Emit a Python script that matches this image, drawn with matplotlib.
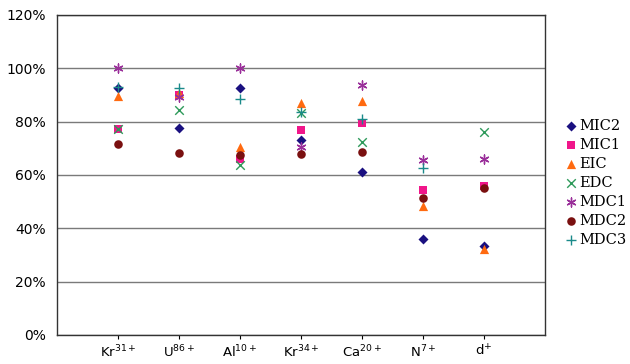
import numpy as np
import matplotlib
matplotlib.use('Agg')
import matplotlib.pyplot as plt
from matplotlib.ticker import FuncFormatter

nan = np.nan

ions = [r'Kr$^{31+}$', r'U$^{86+}$', r'Al$^{10+}$', r'Kr$^{34+}$',
        r'Ca$^{20+}$', r'N$^{7+}$', r'd$^{+}$']

# values in %
mic2 = [92.7, 77.5, 92.7, 73.2, 61.0, 35.9, 33.4]
mic1 = [77.4, 90.0, 66.1, 77.0, 79.4, 54.3, 56.0]
eic = [89.7, 90.6, 70.6, 86.9, 87.8, 48.5, 32.1]
edc = [77.4, 84.5, 63.8, 83.1, 72.3, nan, 76.2]
mdc1 = [100.0, 89.1, 100.0, 70.4, 93.8, 65.6, 65.9]
mdc2 = [71.7, 68.4, 67.4, 68.0, 68.7, 51.3, 55.2]
mdc3 = [93.0, 92.5, 88.4, 83.5, 80.9, 62.5, nan]

series = [
    ('MIC2', mic2, 'D', '#1a1080', 26),
    ('MIC1', mic1, 's', '#f0168a', 32),
    ('EIC', eic, '^', '#ff6a10', 44),
    ('EDC', edc, 'x', '#2e9a5a', 38),
    ('MDC1', mdc1, (6, 2, 0), '#9a2f9a', 42),
    ('MDC2', mdc2, 'o', '#7a1010', 38),
    ('MDC3', mdc3, '+', '#1a8a8a', 48),
]

fig = plt.figure(figsize=(6.3, 3.64), dpi=100)
ax = fig.add_axes([0.0905, 0.0797, 0.7745, 0.8791])

x = np.arange(1, len(ions) + 1)
for name, vals, mk, col, sz in series:
    lw = 1.0 if mk in ('x', '+') or isinstance(mk, tuple) else 0
    ax.scatter(x, vals, marker=mk, s=sz, color=col, linewidths=lw,
               label=name, zorder=3)

ax.set_xlim(0, 8)
ax.set_ylim(0, 120)
ax.set_yticks(np.arange(0, 121, 20))
ax.yaxis.set_major_formatter(FuncFormatter(lambda v, p: '%d%%' % v))
ax.set_xticks(x)
ax.set_xticklabels(ions)
ax.grid(axis='y', color='#7a7a7a', lw=1.0)
ax.set_axisbelow(True)
for s in ax.spines.values():
    s.set_color('#333333')
    s.set_linewidth(1.0)
ax.tick_params(axis='y', length=0, labelsize=10, pad=8)
ax.tick_params(axis='x', length=3, direction='out', labelsize=9.5, pad=3)
for lab in ax.get_yticklabels():
    lab.set_family('DejaVu Sans')
for lab in ax.get_xticklabels():
    lab.set_family('DejaVu Sans')

leg = ax.legend(loc='center left', bbox_to_anchor=(1.02, 0.475), frameon=False,
                prop={'family': 'DejaVu Serif', 'size': 10.5},
                handletextpad=0.0, labelspacing=0.35, handlelength=1.2,
                borderpad=0)

fig.savefig('out.png', dpi=100)
